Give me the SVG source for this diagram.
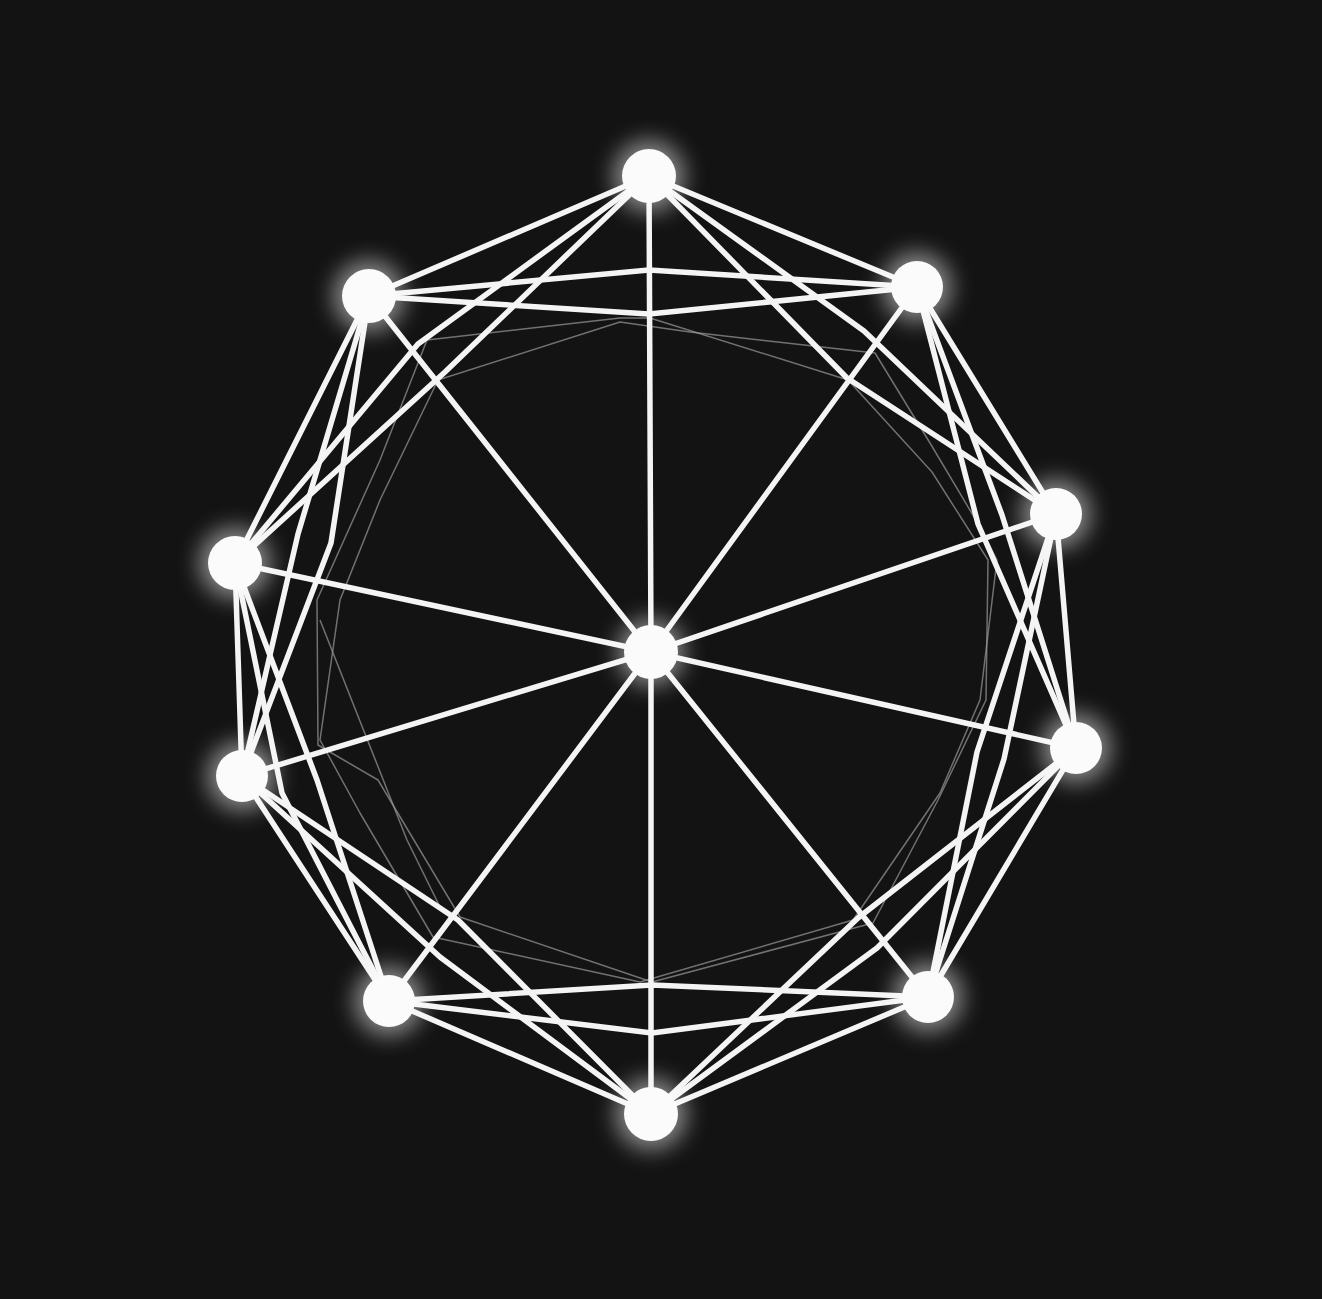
<svg xmlns="http://www.w3.org/2000/svg" width="1322" height="1299" viewBox="0 0 1322 1299">
<defs>
<filter id="glow" x="-100%" y="-100%" width="300%" height="300%"><feGaussianBlur stdDeviation="11"/></filter>
<style>
.bg{fill:#131313}
.e{fill:none;stroke:#f4f4f4;stroke-width:5.5;stroke-linecap:round;stroke-linejoin:round}
.f{fill:none;stroke:#9a9a9a;stroke-width:1.5;stroke-opacity:0.7;stroke-linejoin:round}
.halo{fill:#ffffff;opacity:0.5;filter:url(#glow)}
.core{fill:#fbfbfb}
</style>
</defs>
<rect class="bg" x="0" y="0" width="1322" height="1299"/>
<g id="connectors">
<g id="faint">
<path class="f" d="M650,318 L848,380 L932,472 L988,560 L986,700 L938,800 L873,923 L652,982 L460,917 L378,780 L318,745 L317,600 L380,460 L427,340 L620,318 Z"/>
<path class="f" d="M620,322 L438,380 L380,500 L340,600 L320,740 L360,813 L433,937 L640,982 L853,920 L940,793 L980,700 L997,560 L980,527 L930,443 L875,353 L690,332 Z"/>
<path class="f" d="M320,620 L407,840 L440,907"/>
</g>
<g id="ring">
<path class="e" d="M649,176 L917,287 L1056,514 L1076,748 L928,997 L651,1114 L389,1001 L242,776 L235,563 L369,296 Z"/>
</g>
<g id="spokes">
<line class="e" x1="651" y1="652" x2="649" y2="176"/>
<line class="e" x1="651" y1="652" x2="917" y2="287"/>
<line class="e" x1="651" y1="652" x2="1056" y2="514"/>
<line class="e" x1="651" y1="652" x2="1076" y2="748"/>
<line class="e" x1="651" y1="652" x2="928" y2="997"/>
<line class="e" x1="651" y1="652" x2="651" y2="1114"/>
<line class="e" x1="651" y1="652" x2="389" y2="1001"/>
<line class="e" x1="651" y1="652" x2="242" y2="776"/>
<line class="e" x1="651" y1="652" x2="235" y2="563"/>
<line class="e" x1="651" y1="652" x2="369" y2="296"/>
</g>
<g id="chords">
<path class="e" d="M369,296 L649,270 L917,287"/>
<path class="e" d="M369,296 L649,314 L917,287"/>
<path class="e" d="M649,176 L864,331 L1056,514"/>
<path class="e" d="M649,176 L847,378 L1056,514"/>
<path class="e" d="M917,287 L1002,515 L1076,748"/>
<path class="e" d="M917,287 L978,524 L1076,748"/>
<path class="e" d="M1056,514 L1004,759 L928,997"/>
<path class="e" d="M1056,514 L977,752 L928,997"/>
<path class="e" d="M1076,748 L877,948 L651,1114"/>
<path class="e" d="M1076,748 L858,918 L651,1114"/>
<path class="e" d="M928,997 L652,1033 L389,1001"/>
<path class="e" d="M928,997 L652,985 L389,1001"/>
<path class="e" d="M651,1114 L440,957 L242,776"/>
<path class="e" d="M651,1114 L458,920 L242,776"/>
<path class="e" d="M389,1001 L282,793 L235,563"/>
<path class="e" d="M389,1001 L317,780 L235,563"/>
<path class="e" d="M242,776 L298,534 L369,296"/>
<path class="e" d="M242,776 L331,543 L369,296"/>
<path class="e" d="M235,563 L418,344 L649,176"/>
<path class="e" d="M235,563 L445,372 L649,176"/>
</g>
</g>
<g id="n0"><circle class="halo" cx="649" cy="176" r="36"/><circle class="core" cx="649" cy="176" r="27"/></g>
<g id="n1"><circle class="halo" cx="917" cy="287" r="35"/><circle class="core" cx="917" cy="287" r="26"/></g>
<g id="n2"><circle class="halo" cx="1056" cy="514" r="35"/><circle class="core" cx="1056" cy="514" r="26"/></g>
<g id="n3"><circle class="halo" cx="1076" cy="748" r="35"/><circle class="core" cx="1076" cy="748" r="26"/></g>
<g id="n4"><circle class="halo" cx="928" cy="997" r="35"/><circle class="core" cx="928" cy="997" r="26"/></g>
<g id="n5"><circle class="halo" cx="651" cy="1114" r="36"/><circle class="core" cx="651" cy="1114" r="27"/></g>
<g id="n6"><circle class="halo" cx="389" cy="1001" r="35"/><circle class="core" cx="389" cy="1001" r="26"/></g>
<g id="n7"><circle class="halo" cx="242" cy="776" r="35"/><circle class="core" cx="242" cy="776" r="26"/></g>
<g id="n8"><circle class="halo" cx="235" cy="563" r="36"/><circle class="core" cx="235" cy="563" r="27"/></g>
<g id="n9"><circle class="halo" cx="369" cy="296" r="36"/><circle class="core" cx="369" cy="296" r="27"/></g>
<g id="center"><circle class="halo" cx="651" cy="652" r="34"/><circle class="core" cx="651" cy="652" r="27"/></g>
</svg>
